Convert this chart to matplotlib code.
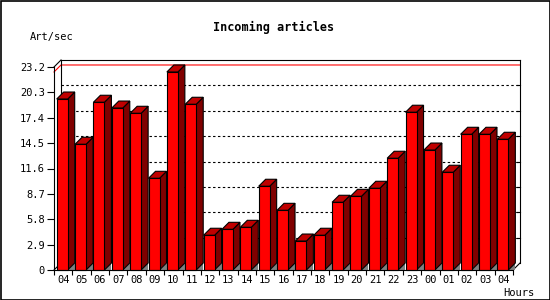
import matplotlib
matplotlib.use("Agg")
import matplotlib.pyplot as plt
from matplotlib.patches import Polygon, Rectangle
from matplotlib.lines import Line2D

# ---- data ----
hours = ['04', '05', '06', '07', '08', '09', '10', '11', '12', '13', '14', '15',
         '16', '17', '18', '19', '20', '21', '22', '23', '00', '01', '02', '03', '04']
values = [19.54, 14.37, 19.17, 18.51, 17.91, 10.48, 22.63, 18.94, 3.97, 4.65,
          4.88, 9.57, 6.82, 3.31, 3.97, 7.74, 8.42, 9.34, 12.77, 18.03, 13.71,
          11.17, 15.51, 15.51, 14.94]
yticks = [0, 2.9, 5.8, 8.7, 11.6, 14.5, 17.4, 20.3, 23.2]
ytick_labels = ['0', '2.9', '5.8', '8.7', '11.6', '14.5', '17.4', '20.3', '23.2']
title = 'Incoming articles'
ylabel = 'Art/sec'
xlabel = 'Hours'

W, H = 550, 300
fig = plt.figure(figsize=(W / 100, H / 100), dpi=100)
fig.patch.set_facecolor('white')

ax_l, ax_r, ax_b, ax_t = 54, 513, 270, 67  # pixel positions
ax = fig.add_axes([ax_l / W, 1 - ax_b / H, (ax_r - ax_l) / W, (ax_b - ax_t) / H])
n = len(values)
ymax = yticks[-1]
ax.set_xlim(-0.5, n - 0.5)
ax.set_ylim(0, ymax)
ax.patch.set_visible(False)

# 3D depth in data units (7 px right, 7 px up)
px_x = n / (ax_r - ax_l)
px_y = ymax / (ax_b - ax_t)
dx = 7 * px_x
dy = 7 * px_y

mono = 'DejaVu Sans Mono'
lw = 0.8

# back wall frame
x0, x1 = -0.5, n - 0.5
ax.add_line(Line2D([x0 + dx, x1 + dx], [ymax + dy, ymax + dy], color='black', lw=lw, clip_on=False))
ax.add_line(Line2D([x1 + dx, x1 + dx], [dy, ymax + dy], color='black', lw=lw, clip_on=False))
ax.add_line(Line2D([x0 + dx, x0 + dx], [dy, ymax + dy], color='black', lw=lw, clip_on=False))
ax.add_line(Line2D([x0, x0 + dx], [ymax, ymax + dy], color='black', lw=lw, clip_on=False))
ax.add_line(Line2D([x1, x1 + dx], [0, dy], color='black', lw=lw, clip_on=False))
ax.add_line(Line2D([x0, x0 + dx], [0, dy], color='black', lw=lw, clip_on=False))

# dotted grid on back wall
for t in yticks[1:-1]:
    ax.add_line(Line2D([x0 + dx, x1 + dx], [t + dy, t + dy], color='black', lw=lw,
                       linestyle=(0, (2.2, 2.2)), clip_on=False))
    ax.add_line(Line2D([x1 + dx - 3 * px_x, x1 + dx], [t + dy, t + dy], color='black',
                       lw=lw, clip_on=False))

# max line (red)
vmax = max(values)
ax.add_line(Line2D([x0, x0 + dx, x1 + dx], [vmax, vmax + dy, vmax + dy], color='red',
                   lw=lw, clip_on=False, zorder=1.5))

# bars
bw = 11 * px_x
off = 2.7 * px_x
for i, v in enumerate(values):
    xl = i - 0.5 + off
    xr = xl + bw
    # floor shadow triangle
    ax.add_patch(Polygon([(xr, 0), (xr + dx, 0), (xr + dx, dy)], closed=True,
                         facecolor='#808080', edgecolor='none', clip_on=False, zorder=2))
    # side
    ax.add_patch(Polygon([(xr, 0), (xr + dx, dy), (xr + dx, v + dy), (xr, v)], closed=True,
                         facecolor='#800000', edgecolor='black', lw=lw, clip_on=False, zorder=3))
    # top
    ax.add_patch(Polygon([(xl, v), (xl + dx, v + dy), (xr + dx, v + dy), (xr, v)], closed=True,
                         facecolor='#c00000', edgecolor='black', lw=lw, clip_on=False, zorder=3))
ax.bar([i - 0.5 + off + bw / 2 for i in range(n)], values, width=bw, color='#ff0000',
       edgecolor='black', linewidth=lw, zorder=4, clip_on=False)

# axes
for s in ['top', 'right']:
    ax.spines[s].set_visible(False)
for s in ['left', 'bottom']:
    ax.spines[s].set_linewidth(lw)
    ax.spines[s].set_zorder(5)

ax.set_yticks(yticks)
ax.set_yticklabels(ytick_labels, fontfamily=mono, fontsize=7.5)
ax.tick_params(axis='y', length=5, width=lw, pad=1.5, direction='out')
ax.set_xticks(range(n))
ax.set_xticklabels(hours, fontfamily=mono, fontsize=7.5)
ax.set_xticks([i - 0.5 for i in range(n + 1)], minor=True)
ax.tick_params(axis='x', which='major', length=0, pad=3.5)
ax.tick_params(axis='x', which='minor', length=3.5, width=lw, direction='out')

fig.text(274 / W, 1 - 27 / H, title, ha='center', va='center', fontfamily=mono,
         fontweight='bold', fontsize=8.5)
fig.text(52 / W, 1 - 37 / H, ylabel, ha='center', va='center', fontfamily=mono, fontsize=7.5)
fig.text(519 / W, 1 - 293 / H, xlabel, ha='center', va='center', fontfamily=mono, fontsize=7.5)

# figure border
fig.add_artist(Rectangle((0.5, 0.5), W - 1, H - 1, transform=None, fill=False,
                         edgecolor='black', lw=1.2))

fig.savefig('out.png', dpi=100)
